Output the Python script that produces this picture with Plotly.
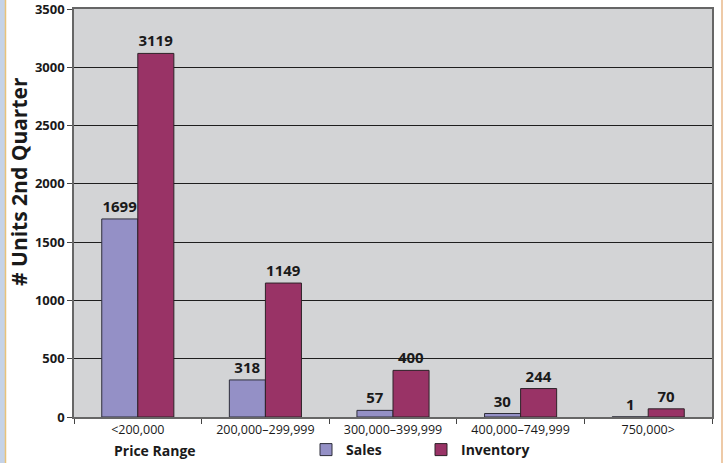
import plotly.graph_objects as go

categories = ["<200,000", "200,000\u2013299,999", "300,000\u2013399,999", "400,000\u2013749,999", "750,000>"]
sales = [1699, 318, 57, 30, 1]
inventory = [3119, 1149, 400, 244, 70]
y_ticks = [0, 500, 1000, 1500, 2000, 2500, 3000, 3500]

FONT = "Open Sans"
W, H = 725, 463

fig = go.Figure()
fig.add_trace(go.Bar(
    name="Sales", x=categories, y=sales,
    marker=dict(color="#9490c6", line=dict(color="#2e2e3a", width=1)),
    text=[str(v) for v in sales], textposition="outside", cliponaxis=False,
    textfont=dict(family=FONT, size=15, color="#1a1a1a", weight="bold"),
))
fig.add_trace(go.Bar(
    name="Inventory", x=categories, y=inventory,
    marker=dict(color="#993366", line=dict(color="#2e2228", width=1)),
    text=[str(v) for v in inventory], textposition="outside", cliponaxis=False,
    textfont=dict(family=FONT, size=15, color="#1a1a1a", weight="bold"),
))

fig.update_layout(
    width=W, height=H,
    margin=dict(l=74, r=13, t=9, b=46, autoexpand=False),
    paper_bgcolor="white", plot_bgcolor="#d3d4d6",
    barmode="group", bargap=0.435, bargroupgap=0,
    font=dict(family=FONT, color="#1a1a1a"),
    showlegend=True,
    legend=dict(orientation="h", xref="container", yref="container",
                x=306 / W, y=1 - 450 / H, xanchor="left", yanchor="middle",
                font=dict(family=FONT, size=14, weight="bold"),
                entrywidth=70, entrywidthmode="pixels",
                traceorder="normal", bgcolor="rgba(0,0,0,0)"),
    yaxis=dict(range=[0, 3500], tickvals=y_ticks, showgrid=True, gridcolor="#1e1e1e", gridwidth=1,
               ticks="outside", ticklen=5, tickcolor="#444", showline=True, linecolor="#666",
               linewidth=1.5, mirror=True, ticklabeloverflow="allow",
               tickfont=dict(family=FONT, size=13, weight="bold"),
               zeroline=False),
    xaxis=dict(showline=True, linecolor="#666", linewidth=1.5, mirror=True, ticks="outside", ticklen=5,
               tickson="boundaries", tickcolor="#444",
               tickfont=dict(family=FONT, size=12.5)),
)

# axis titles
fig.add_annotation(text="<b># Units 2nd Quarter</b>", xref="paper", yref="paper",
                   x=-55 / 638, y=(417 - 182) / 408, textangle=-90,
                   xanchor="center", yanchor="middle", showarrow=False,
                   font=dict(family=FONT, size=21))
fig.add_annotation(text="<b>Price Range</b>", xref="paper", yref="paper",
                   x=(112 - 74) / 638, y=-(450 - 417) / 408,
                   xanchor="left", yanchor="middle", showarrow=False,
                   font=dict(family=FONT, size=14))

# decorative page edges
fig.add_shape(type="rect", xref="paper", yref="paper", x0=-74/638, x1=-69/638, y0=-0.2, y1=1.05,
              fillcolor="#c5d3e8", line=dict(width=0))
fig.add_shape(type="line", xref="paper", yref="paper", x0=-68.5/638, x1=-68.5/638, y0=-0.2, y1=1.05,
              line=dict(color="#e8c27a", width=1.5))
fig.add_shape(type="line", xref="paper", yref="paper", x0=1 + 10/638, x1=1 + 10/638, y0=-0.2, y1=1.05,
              line=dict(color="#e8b98a", width=1.5))

fig.write_html("out.html")
